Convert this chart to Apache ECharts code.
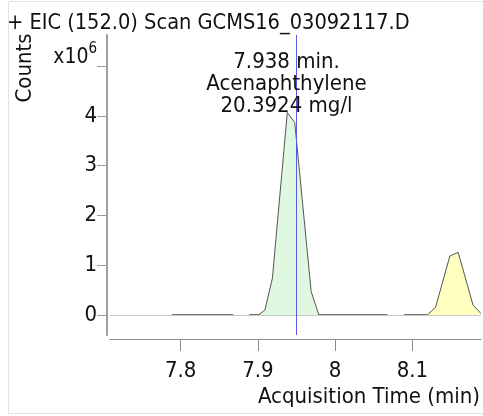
<!DOCTYPE html>
<html><head><meta charset="utf-8">
<script src="https://cdn.jsdelivr.net/npm/echarts@6/dist/echarts.min.js"></script>
<style>html,body{margin:0;padding:0;background:#fff}#c{width:483px;height:416px}</style>
</head><body><div id="c"></div>
<script>
// ---- data ----
const titleText = '+ EIC (152.0) Scan GCMS16_03092117.D';
const xName = 'Acquisition Time (min)';
const yName = 'Counts';
const xTicks = [7.8, 7.9, 8, 8.1];
const yTicks = [0, 1, 2, 3, 4, 5];
const peak1Times = [7.9008, 7.9091, 7.9188, 7.9381, 7.9477, 7.9690, 7.9790];
const peak1Counts = [0, 0.10, 0.74, 4.07, 3.87, 0.47, 0];
const peak2Times = [8.1193, 8.1300, 8.1485, 8.1592, 8.1785, 8.1888];
const peak2Counts = [0, 0.155, 1.186, 1.26, 0.20, 0.03];
const baselineStarts = [7.7884, 7.8888, 8.0892];
const baselineEnds = [7.8682, 8.0677, 8.1193];
const markerTime = 7.949;
const labelTime = 7.9371;
const labelCounts = 4.64;
const compoundLines = ['7.938 min.', 'Acenaphthylene', '20.3924 mg/l'];

// ---- chart ----
const FONT = '"DejaVu Sans Condensed", "DejaVu Sans", sans-serif';
const TXT = '#111';
const chart = echarts.init(document.getElementById('c'), null, {renderer: 'canvas'});

const series = [];
series.push({
  type: 'line', data: [], silent: true, z: 1,
  markLine: {
    silent: true, symbol: 'none', animation: false,
    label: {show: false},
    data: [{yAxis: 0, lineStyle: {color: '#c8c8c8', width: 1, type: 'solid'}}]
  }
});
baselineStarts.forEach((s, i) => {
  series.push({
    type: 'line', symbol: 'none', silent: true, z: 2, animation: false,
    lineStyle: {color: '#444', width: 1.3},
    data: [[s, 0], [baselineEnds[i], 0]]
  });
});
series.push({
  type: 'line', symbol: 'none', silent: true, z: 3, animation: false,
  lineStyle: {color: '#555', width: 1},
  areaStyle: {color: '#e0f8e0', opacity: 1},
  data: peak1Times.map((t, i) => [t, peak1Counts[i]])
});
series.push({
  type: 'line', symbol: 'none', silent: true, z: 3, animation: false,
  lineStyle: {color: '#555', width: 1},
  areaStyle: {color: '#ffffc0', opacity: 1},
  data: peak2Times.map((t, i) => [t, peak2Counts[i]])
});
series.push({
  type: 'line', data: [], silent: true, z: 5,
  markLine: {
    silent: true, symbol: 'none', animation: false,
    label: {show: false},
    data: [{xAxis: markerTime, lineStyle: {color: '#5a5ae0', width: 1, type: 'solid'}}]
  },
  markPoint: {
    silent: true, animation: false, symbol: 'circle', symbolSize: 0,
    data: [{coord: [labelTime, labelCounts]}],
    label: {
      show: true, position: 'inside', formatter: compoundLines.join('\n'),
      fontFamily: FONT, fontSize: 22, lineHeight: 21.7, color: TXT, align: 'center'
    }
  }
});

chart.setOption({
  animation: false,
  backgroundColor: '#fff',
  title: {
    text: titleText, left: 2, top: 7,
    textStyle: {fontFamily: FONT, fontSize: 21.6, fontWeight: 'normal', color: TXT}
  },
  grid: {left: 110, right: 0, top: 35, bottom: 81, containLabel: false},
  xAxis: {
    type: 'value', min: 7.7086, max: 8.1888, offset: 4,
    name: xName, nameLocation: 'end', nameGap: -1,
    nameTextStyle: {fontFamily: FONT, fontSize: 22, color: TXT, align: 'right', verticalAlign: 'top', padding: [47, 0, 0, 0]},
    axisLine: {show: true, onZero: false, lineStyle: {color: '#8c8c8c', width: 1}},
    axisTick: {show: true, length: 12, customValues: xTicks, lineStyle: {color: '#8c8c8c'}},
    axisLabel: {customValues: xTicks, margin: 21, fontFamily: FONT, fontSize: 22, color: TXT,
      formatter: v => String(v)},
    splitLine: {show: false}
  },
  yAxis: {
    type: 'value', min: -0.402, max: 5.628, offset: 3,
    axisLine: {show: true, lineStyle: {color: '#a0a0a0', width: 2}},
    axisTick: {show: true, length: 10, customValues: yTicks, lineStyle: {color: '#999'}},
    axisLabel: {
      customValues: yTicks, margin: 10, fontFamily: FONT, fontSize: 22, color: TXT,
      formatter: v => v === 5 ? '{u|x10}{s|6}' : String(v),
      rich: {
        u: {fontFamily: FONT, fontSize: 21, lineHeight: 20, color: TXT, padding: [8, 0, 26, 0]},
        s: {fontFamily: FONT, fontSize: 15, lineHeight: 14, color: TXT, padding: [3, 0, 37, 0]}
      }
    },
    splitLine: {show: false}
  },
  graphic: [
    {type: 'rect', silent: true, z: -1, shape: {x: 8.5, y: 1.5, width: 490, height: 412},
      style: {fill: 'none', stroke: '#e2e2e2', lineWidth: 1}},
    {type: 'text', silent: true, x: 25, y: 68, rotation: Math.PI / 2,
      style: {text: yName, fontFamily: FONT, fontSize: 22, fill: TXT, align: 'center', verticalAlign: 'middle'}}
  ],
  series: series
});
</script></body></html>
